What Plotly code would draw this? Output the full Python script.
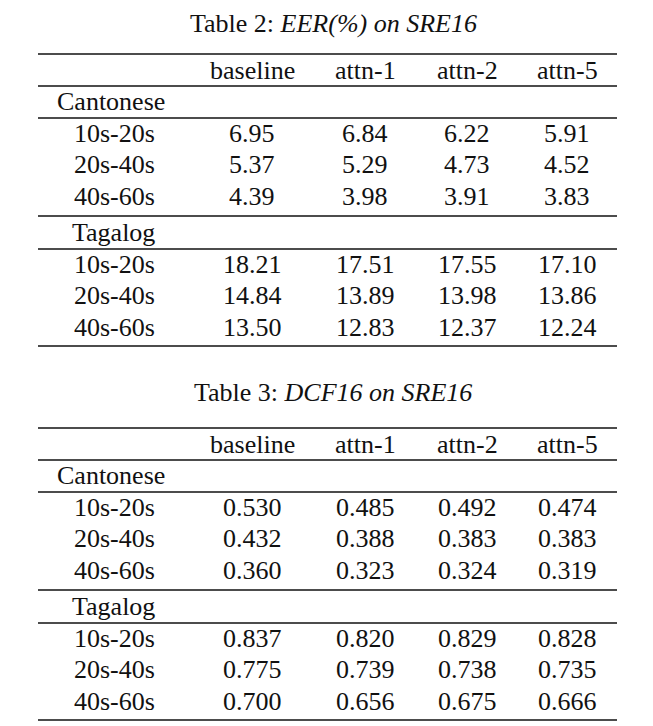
import plotly.graph_objects as go

COLUMNS = ["baseline", "attn-1", "attn-2", "attn-5"]
DURATIONS = ["10s-20s", "20s-40s", "40s-60s"]
LANGUAGES = ["Cantonese", "Tagalog"]

EER_CANTONESE = ["6.95", "6.84", "6.22", "5.91",
                 "5.37", "5.29", "4.73", "4.52",
                 "4.39", "3.98", "3.91", "3.83"]
EER_TAGALOG = ["18.21", "17.51", "17.55", "17.10",
               "14.84", "13.89", "13.98", "13.86",
               "13.50", "12.83", "12.37", "12.24"]

DCF_CANTONESE = ["0.530", "0.485", "0.492", "0.474",
                 "0.432", "0.388", "0.383", "0.383",
                 "0.360", "0.323", "0.324", "0.319"]
DCF_TAGALOG = ["0.837", "0.820", "0.829", "0.828",
               "0.775", "0.739", "0.738", "0.735",
               "0.700", "0.656", "0.675", "0.666"]

TABLES = [
    ("Table 2: <i>EER(%) on SRE16</i>", EER_CANTONESE, EER_TAGALOG),
    ("Table 3: <i>DCF16 on SRE16</i>", DCF_CANTONESE, DCF_TAGALOG),
]

FONT = "Liberation Serif, Times New Roman, serif"
INK = "#111111"
SIZE = 26

# page geometry (screen pixels; the page body has an 8px margin)
PAGE_PAD = 8
X_LEFT, X_RIGHT = 38, 617
LABEL_X = 114
COL_X = [252, 365, 467, 567]
TABLE_OFFSET = 374

fig = go.Figure()
annotations = []
shapes = []


def add_text(x, y, text, anchor="center"):
    annotations.append(dict(
        x=x, y=y, xref="x", yref="y", text=text, showarrow=False,
        xanchor=anchor, yanchor="middle", borderpad=0,
        font=dict(family=FONT, size=SIZE, color=INK),
    ))


def add_rule(y):
    shapes.append(dict(
        type="line", xref="x", yref="y", x0=X_LEFT, x1=X_RIGHT, y0=y, y1=y,
        line=dict(color=INK, width=1.5),
    ))


for t, (title, cant, taga) in enumerate(TABLES):
    off = t * TABLE_OFFSET
    # first title sits a touch low so its glyphs stay inside the page
    add_text(333, (23 if t == 0 else 18) + off, title)
    for y in [54, 86, 118, 216, 249, 346]:
        add_rule(y + off)
    for c, name in enumerate(COLUMNS):
        add_text(COL_X[c], 70 + off, name)

    add_text(56, 101 + off, LANGUAGES[0], anchor="left")
    add_text(71, 232 + off, LANGUAGES[1], anchor="left")

    for block, vals, base in [(0, cant, 133), (1, taga, 264)]:
        for r, dur in enumerate(DURATIONS):
            y = base + r * 31.5 + off
            add_text(LABEL_X, y, dur)
            for c in range(len(COLUMNS)):
                add_text(COL_X[c], y, vals[r * 4 + c])

fig.update_layout(
    width=653, height=726,
    margin=dict(l=0, r=0, t=0, b=0),
    paper_bgcolor="white", plot_bgcolor="white",
    font=dict(family=FONT),
    xaxis=dict(range=[PAGE_PAD, 653 + PAGE_PAD], visible=False, fixedrange=True),
    yaxis=dict(range=[726 + PAGE_PAD, PAGE_PAD], visible=False, fixedrange=True),
    annotations=annotations,
    shapes=shapes,
    showlegend=False,
)

fig.write_html("out.html")
